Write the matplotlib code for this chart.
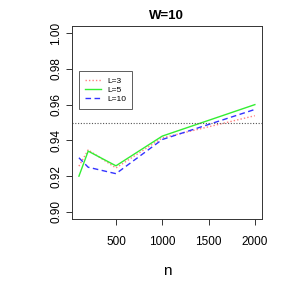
import matplotlib
matplotlib.use("Agg")
import matplotlib.pyplot as plt

# sample sizes
n_values = [100, 200, 500, 1000, 2000]

# coverage for each L
cov_L3 = [0.9256, 0.9347, 0.9246, 0.9414, 0.9538]
cov_L5 = [0.9200, 0.9340, 0.9258, 0.9424, 0.9600]
cov_L10 = [0.9303, 0.9250, 0.9214, 0.9405, 0.9573]

nominal = 0.95
x_ticks = [500, 1000, 1500, 2000]
y_ticks = [0.90, 0.92, 0.94, 0.96, 0.98, 1.00]

plt.rcParams['font.family'] = ['Liberation Sans', 'DejaVu Sans']

fig = plt.figure(figsize=(2.91, 2.91), dpi=100)
ax = fig.add_axes([0.247, 0.247, 0.653, 0.664])

ax.plot(n_values, cov_L3, color="#ff8080", linestyle=(0, (1, 1.5)), linewidth=1.0, label="L=3")
ax.plot(n_values, cov_L5, color="#33ee33", linestyle="-", linewidth=1.0, label="L=5")
ax.plot(n_values, cov_L10, color="#3333ff", linestyle=(0, (4, 2.5)), linewidth=1.0, label="L=10")
ax.axhline(nominal, color="#555555", linestyle=(0, (1, 1.5)), linewidth=0.8)

ax.set_xlim(24, 2076)
ax.set_ylim(0.896, 1.004)
ax.set_xticks(x_ticks)
ax.set_xticklabels([str(t) for t in x_ticks])
ax.set_yticks(y_ticks)
ax.set_yticklabels(["%.2f" % t for t in y_ticks], rotation=90, va="center")
ax.tick_params(direction="out", length=4, width=0.7, labelsize=8.5, colors="#333333",
               labelcolor="black")
ax.tick_params(axis="y", pad=3)
ax.tick_params(axis="x", pad=8)
for s in ax.spines.values():
    s.set_linewidth(0.7)
    s.set_color("#333333")

ax.set_xlabel("n", fontsize=11, labelpad=12)
ax.set_title("W=10", fontsize=9.5, fontweight="bold", pad=5)

leg = ax.legend(loc="upper left", bbox_to_anchor=(0.037, 0.767), fontsize=6,
                borderaxespad=0, frameon=True, fancybox=False, edgecolor="#333333",
                handlelength=1.9, borderpad=0.7, labelspacing=0.15, handletextpad=0.85)
leg.get_frame().set_linewidth(0.7)

plt.savefig("out.png", dpi=100)
